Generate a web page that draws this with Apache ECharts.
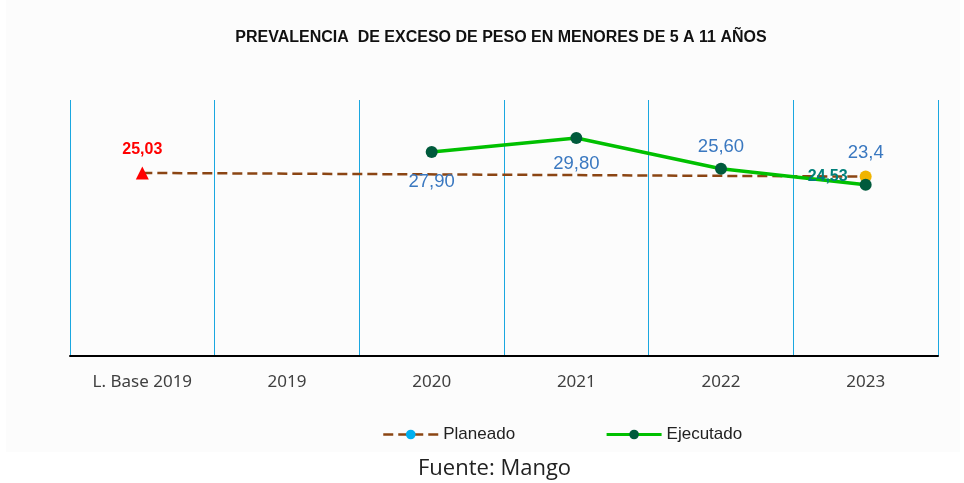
<!DOCTYPE html>
<html>
<head>
<meta charset="utf-8">
<script src="https://cdn.jsdelivr.net/npm/echarts@6/dist/echarts.min.js"></script>
<style>
  html, body { margin: 0; padding: 0; background: #ffffff; }
  #chart { width: 964px; height: 483px; }
</style>
</head>
<body>
<div id="chart"></div>
<script>
var categories = ["L. Base 2019", "2019", "2020", "2021", "2022", "2023"];
var planeado = [25.03, null, null, null, null, 24.53];
var ejecutado = [null, null, 27.9, 29.8, 25.6, 23.4];
var ejecutadoLabels = ["", "", "27,90", "29,80", "25,60", "23,4"];
// where each executed label sits, as in the original
var labelPos = ["top", "top", "bottom", "bottom", "top", "top"];
var labelDist = [8, 8, 14, 10, 6, 16];

var chartDom = document.getElementById("chart");
var myChart = echarts.init(chartDom);
var option;

option = {
  animation: false,
  graphic: [
    {
      type: "rect",
      z: -10,
      shape: { x: 6, y: 0, width: 954, height: 452 },
      style: { fill: "#fcfcfc" }
    },
    {
      type: "text",
      left: 418,
      top: 458,
      style: {
        text: "Fuente: Mango",
        font: '22px "Open Sans"',
        fill: "#222222"
      }
    }
  ],
  title: {
    text: "PREVALENCIA  DE EXCESO DE PESO EN MENORES DE 5 A 11 AÑOS",
    left: 496,
    textAlign: "center",
    top: 25,
    textStyle: {
      fontFamily: "Liberation Sans",
      fontSize: 16,
      fontWeight: "bold",
      color: "#111111"
    }
  },
  legend: {
    top: 421,
    left: 377,
    itemGap: 90,
    itemWidth: 55,
    itemHeight: 12,
    textStyle: { fontFamily: "Liberation Sans", fontSize: 17, color: "#222222" },
    data: [
      {
        name: "Planeado",
        itemStyle: { color: "#00b0f0", borderWidth: 0 },
        lineStyle: { color: "#8b4513", type: "dashed", width: 2.5 }
      },
      {
        name: "Ejecutado",
        itemStyle: { color: "#005a3c", borderWidth: 0 },
        lineStyle: { color: "#00c000", width: 3 }
      }
    ]
  },
  grid: { left: 70, right: 26, top: 100, bottom: 127 },
  xAxis: {
    type: "category",
    data: categories,
    boundaryGap: true,
    axisLine: { lineStyle: { color: "#000000", width: 2 } },
    axisTick: { show: false },
    axisLabel: {
      margin: 18,
      fontFamily: "Noto Sans",
      fontSize: 17,
      color: "#404040"
    },
    splitLine: {
      show: true,
      lineStyle: { color: "#1aa7e0", width: 1 }
    }
  },
  yAxis: {
    type: "value",
    min: 0,
    max: 35,
    show: false,
    splitLine: { show: false }
  },
  series: [
    {
      name: "Planeado",
      type: "line",
      connectNulls: true,
      symbol: "circle",
      symbolSize: 12,
      lineStyle: { color: "#8b4513", type: "dashed", width: 2.5 },
      itemStyle: { color: "#00b0f0" },
      data: [
        {
          value: planeado[0],
          symbol: "triangle",
          symbolSize: 13,
          itemStyle: { color: "#ff0000" },
          label: {
            show: true,
            position: "top",
            distance: 9,
            formatter: "25,03",
            color: "#ff0000",
            fontFamily: "Liberation Sans",
            fontWeight: "bold",
            fontSize: 16
          }
        },
        planeado[1],
        planeado[2],
        planeado[3],
        planeado[4],
        {
          value: planeado[5],
          itemStyle: { color: "#f0b400" },
          label: {
            show: true,
            position: "left",
            distance: 12,
            formatter: "24,53",
            color: "#00807a",
            fontFamily: "Liberation Sans",
            fontWeight: "bold",
            fontSize: 16
          }
        }
      ]
    },
    {
      name: "Ejecutado",
      type: "line",
      data: ejecutado.map(function (v, i) {
        return {
          value: v,
          label: {
            show: v !== null,
            position: labelPos[i],
            distance: labelDist[i],
            formatter: ejecutadoLabels[i]
          }
        };
      }),
      symbol: "circle",
      symbolSize: 12,
      z: 3,
      lineStyle: { color: "#00c000", width: 3.5 },
      itemStyle: { color: "#005a3c" },
      label: {
        color: "#3a78c0",
        fontFamily: "Liberation Sans",
        fontSize: 18.5
      }
    }
  ]
};

option && myChart.setOption(option);
</script>
</body>
</html>
